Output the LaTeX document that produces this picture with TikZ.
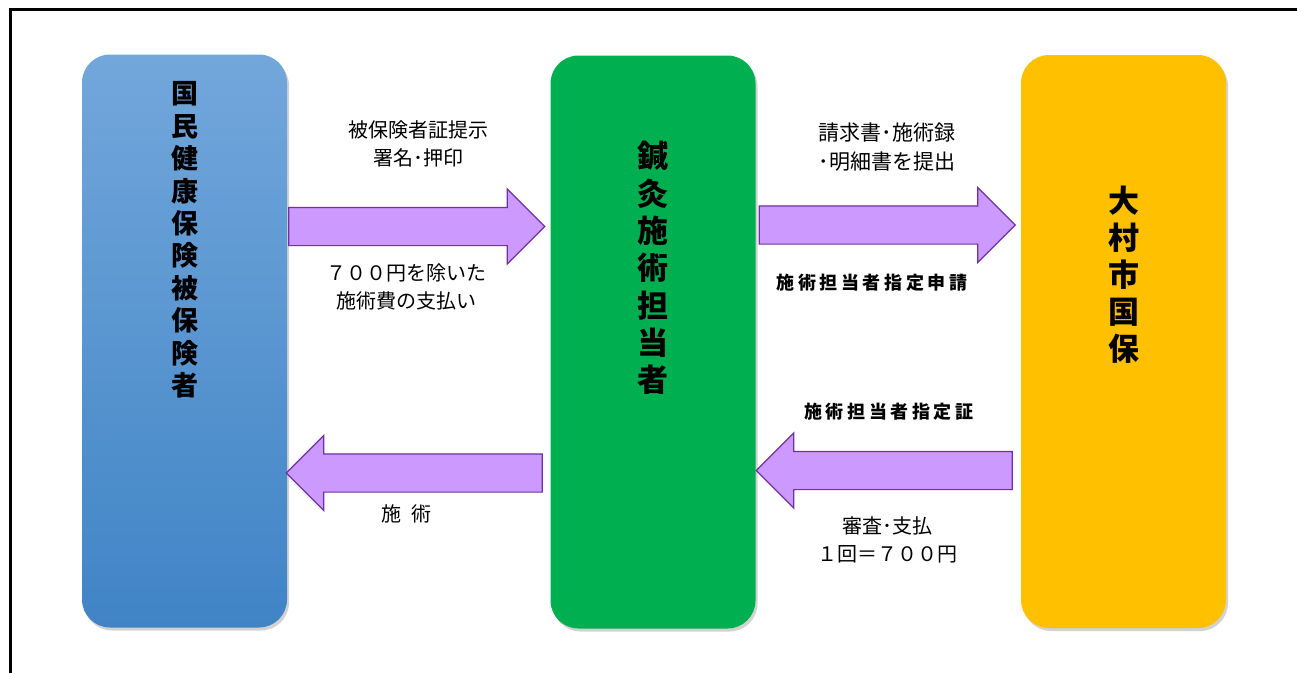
\documentclass[tikz,border=0pt]{standalone}
\usepackage{fontspec}
\setmainfont{Noto Sans CJK JP}
\usetikzlibrary{shapes.arrows, shadows, positioning}
\definecolor{hihoTop}{RGB}{114,167,219}
\definecolor{hihoBot}{RGB}{64,132,198}
\definecolor{sejutsu}{RGB}{0,176,80}
\definecolor{kokuho}{RGB}{255,192,0}
\definecolor{yajiFill}{RGB}{204,153,255}
\definecolor{yajiLine}{RGB}{112,48,160}

\tikzset{
 box/.style={rounded corners=28pt, minimum width=205pt, minimum height=573pt, inner sep=0pt,
   drop shadow={shadow xshift=2pt, shadow yshift=-3pt, fill=black!35}},
 vtext/.style={align=center, inner sep=0pt},
 fatarrow/.style={single arrow, draw=yajiLine, fill=yajiFill, line width=1.2pt,
   inner xsep=0pt, inner ysep=18.5pt, text height=0pt, text depth=0pt,
   single arrow head extend=18.5pt, minimum height=256pt, anchor=tail},
 lbl/.style={align=center, inner sep=0pt, font=\fontsize{20}{28}\selectfont},
 blbl/.style={inner sep=0pt, font=\bfseries\fontsize{18}{22}\selectfont\addfontfeature{LetterSpace=20}},
}

\begin{document}
\begin{tikzpicture}[x=1pt, y=-1pt]
 \useasboundingbox (0,0) rectangle (1297,673);
 \draw[line width=3pt] (10.5,673) -- (10.5,9) -- (1297,9);

 % boxes
 \node[box, top color=hihoTop, bottom color=hihoBot] (hiho) at (184.5,341) {};
 \node[box, fill=sejutsu] (tanto) at (653,342) {};
 \node[box, fill=kokuho] (omura) at (1123.5,341.5) {};

 \node[vtext, font=\bfseries\fontsize{27}{32.4}\selectfont] (hihotxt) at (hiho.center |- 0,240)
   {国\\民\\健\\康\\保\\険\\被\\保\\険\\者};
 \node[vtext, font=\bfseries\fontsize{31}{37.3}\selectfont] (tantotxt) at (tanto.center |- 0,268)
   {鍼\\灸\\施\\術\\担\\当\\者};
 \node[vtext, font=\bfseries\fontsize{31}{37}\selectfont] (omuratxt) at (omura.center |- 0,275)
   {大\\村\\市\\国\\保};

 % arrows
 \node[fatarrow, xshift=1pt] (a1) at (hiho.east |- 0,226.5) {};
 \node[fatarrow, xshift=3pt] (a2) at (tanto.east |- 0,225) {};
 \node[fatarrow, shape border rotate=180, xshift=-7.5pt] (a3) at (tanto.west |- 0,473) {};
 \node[fatarrow, shape border rotate=180, xshift=-8pt] (a4) at (omura.west |- 0,470.5) {};

 % labels
 \node[lbl] (a1top) at (418,144) {被保険者証提示\\署名･押印};
 \node[lbl] (a1bot) at (406,287) {７００円を除いた\\施術費の支払い};
 \node[lbl, font=\fontsize{21}{29}\selectfont] (a2top) at (887,147) {請求書･施術録\\･明細書を提出};
 \node[blbl] (a2bot) at (872,283) {施術担当者指定申請};
 \node[lbl] (a3bot) at (406,514) {施\hspace{0.5em}術};
 \node[blbl] (a4top) at (889,412) {施術担当者指定証};
 \node[lbl] (a4bot) at (887,540) {審査･支払\\１回＝７００円};
\end{tikzpicture}
\end{document}
